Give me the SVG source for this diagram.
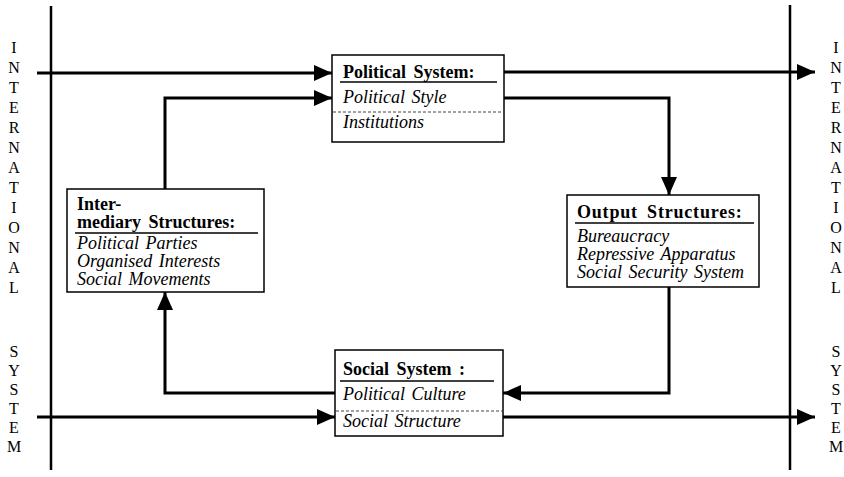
<svg xmlns="http://www.w3.org/2000/svg" width="844" height="477" viewBox="0 0 844 477">
  <style>
    .frame { stroke: #000; stroke-width: 2.5; fill: none; }
    .flow { stroke: #000; stroke-width: 3; fill: none; }
    .box { fill: #fff; stroke: #000; stroke-width: 1.5; }
    .rule { stroke: #000; stroke-width: 1.5; }
    .dash { stroke: #444; stroke-width: 1; stroke-dasharray: 3 2; }
    .title { font-family: "Liberation Serif", "Times New Roman", serif; font-size: 18px; font-weight: bold; word-spacing: 3px; fill: #000; }
    .wide { letter-spacing: 0.8px; word-spacing: 4px; }
    .item { font-family: "Liberation Serif", "Times New Roman", serif; font-size: 18px; font-style: italic; word-spacing: 2px; fill: #000; }
    .side { font-family: "Liberation Serif", "Times New Roman", serif; font-size: 16px; fill: #000; text-anchor: middle; }
  </style>
  <defs>
    <marker id="head" viewBox="0 0 18 16" refX="18" refY="8" markerWidth="18" markerHeight="16" markerUnits="userSpaceOnUse" orient="auto">
      <path d="M0,0 L18,8 L0,16 Z" fill="#000"/>
    </marker>
  </defs>

  <!-- system boundaries -->
  <g id="boundaries">
    <line class="frame" x1="51" y1="6" x2="51" y2="470"/>
    <line class="frame" x1="790" y1="5" x2="790" y2="470"/>
  </g>

  <!-- international system labels, one letter per line -->
  <g id="label-left" class="side">
    <text x="14" y="53">I</text>
    <text x="14" y="73">N</text>
    <text x="14" y="93">T</text>
    <text x="14" y="113">E</text>
    <text x="14" y="133">R</text>
    <text x="14" y="153">N</text>
    <text x="14" y="173">A</text>
    <text x="14" y="193">T</text>
    <text x="14" y="213">I</text>
    <text x="14" y="233">O</text>
    <text x="14" y="253">N</text>
    <text x="14" y="273">A</text>
    <text x="14" y="293">L</text>
    <text x="14" y="357">S</text>
    <text x="14" y="376">Y</text>
    <text x="14" y="395">S</text>
    <text x="14" y="414">T</text>
    <text x="14" y="433">E</text>
    <text x="14" y="452">M</text>
  </g>
  <g id="label-right" class="side">
    <text x="836" y="53">I</text>
    <text x="836" y="73">N</text>
    <text x="836" y="93">T</text>
    <text x="836" y="113">E</text>
    <text x="836" y="133">R</text>
    <text x="836" y="153">N</text>
    <text x="836" y="173">A</text>
    <text x="836" y="193">T</text>
    <text x="836" y="213">I</text>
    <text x="836" y="233">O</text>
    <text x="836" y="253">N</text>
    <text x="836" y="273">A</text>
    <text x="836" y="293">L</text>
    <text x="836" y="357">S</text>
    <text x="836" y="376">Y</text>
    <text x="836" y="395">S</text>
    <text x="836" y="414">T</text>
    <text x="836" y="433">E</text>
    <text x="836" y="452">M</text>
  </g>

  <!-- connectors -->
  <g id="connectors">
    <line class="flow" x1="37" y1="73" x2="332" y2="73" marker-end="url(#head)"/>
    <line class="flow" x1="504" y1="72" x2="815" y2="72" marker-end="url(#head)"/>
    <polyline class="flow" points="504,98 669,98 669,195" marker-end="url(#head)"/>
    <polyline class="flow" points="669,287 669,393 503,393" marker-end="url(#head)"/>
    <polyline class="flow" points="335,393 165,393 165,292" marker-end="url(#head)"/>
    <polyline class="flow" points="165,189 165,98 332,98" marker-end="url(#head)"/>
    <line class="flow" x1="37" y1="417" x2="335" y2="417" marker-end="url(#head)"/>
    <line class="flow" x1="503" y1="417" x2="815" y2="417" marker-end="url(#head)"/>
  </g>

  <!-- political system -->
  <g id="political-system">
    <rect class="box" x="332" y="55" width="172" height="87"/>
    <text class="title" x="343" y="78">Political System:</text>
    <line class="rule" x1="340" y1="82" x2="497" y2="82"/>
    <text class="item" x="343" y="103">Political Style</text>
    <line class="dash" x1="333" y1="112" x2="503" y2="112"/>
    <text class="item" x="343" y="128">Institutions</text>
  </g>

  <!-- intermediary structures -->
  <g id="intermediary-structures">
    <rect class="box" x="67" y="189" width="197" height="103"/>
    <text class="title" x="77" y="210">Inter-</text>
    <text class="title" x="77" y="228">mediary Structures:</text>
    <line class="rule" x1="75" y1="233" x2="258" y2="233"/>
    <text class="item" x="77" y="249">Political Parties</text>
    <text class="item" x="77" y="267">Organised Interests</text>
    <text class="item" x="77" y="285">Social Movements</text>
  </g>

  <!-- output structures -->
  <g id="output-structures">
    <rect class="box" x="567" y="195" width="192" height="92"/>
    <text class="title wide" x="577" y="218">Output Structures:</text>
    <line class="rule" x1="575" y1="223" x2="754" y2="223"/>
    <text class="item" x="577" y="242">Bureaucracy</text>
    <text class="item" x="577" y="260">Repressive Apparatus</text>
    <text class="item" x="577" y="278">Social Security System</text>
  </g>

  <!-- social system -->
  <g id="social-system">
    <rect class="box" x="335" y="350" width="168" height="86"/>
    <text class="title" x="343" y="375">Social System :</text>
    <line class="rule" x1="340" y1="381" x2="494" y2="381"/>
    <text class="item" x="343" y="400">Political Culture</text>
    <line class="dash" x1="336" y1="411" x2="502" y2="411"/>
    <text class="item" x="343" y="427">Social Structure</text>
  </g>
</svg>
